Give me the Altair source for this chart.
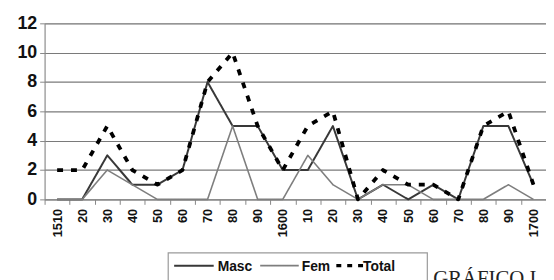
import altair as alt
import pandas as pd

decades = ["1510", "1520", "1530", "1540", "1550", "1560", "1570", "1580", "1590", "1600",
           "1610", "1620", "1630", "1640", "1650", "1660", "1670", "1680", "1690", "1700"]
tick_labels = ["1510", "20", "30", "40", "50", "60", "70", "80", "90", "1600",
               "10", "20", "30", "40", "50", "60", "70", "80", "90", "1700"]
masc = [0, 0, 3, 1, 1, 2, 8, 5, 5, 2, 2, 5, 0, 1, 0, 1, 0, 5, 5, 1]
fem = [0, 0, 2, 1, 0, 0, 0, 5, 0, 0, 3, 1, 0, 1, 1, 0, 0, 0, 1, 0]
total = [2, 2, 5, 2, 1, 2, 8, 10, 5, 2, 5, 6, 0, 2, 1, 1, 0, 5, 6, 1]
series = ["Masc", "Fem", "Total"]
colors = {"Masc": "#383838", "Fem": "#7e7e7e", "Total": "#000000"}
widths = {"Masc": 2.0, "Fem": 1.6, "Total": 3.8}
dashes = {"Masc": [1, 0], "Fem": [1, 0], "Total": [6, 8]}

rows = []
for name, vals in zip(series, [masc, fem, total]):
    for d, v in zip(decades, vals):
        rows.append({"decade": d, "value": v, "serie": name})
df = pd.DataFrame(rows)

label_map = "{" + ",".join(f"'{d}':'{t}'" for d, t in zip(decades, tick_labels)) + "}"

W, H = 507, 178

x_enc = alt.X("decade:N", sort=decades, bandPosition=0.5,
              scale=alt.Scale(type="band", paddingInner=0, paddingOuter=0),
              axis=alt.Axis(title=None, labelAngle=-90, labelAlign="right", labelBaseline="middle",
                            labelExpr=f"{label_map}[datum.value]", labelFont="Liberation Sans",
                            labelFontWeight="bold", labelFontSize=13, labelColor="#111",
                            labelPadding=4, tickBand="extent", tickSize=5, tickColor="#888",
                            domainColor="#888", grid=False))
y_enc = alt.Y("value:Q", scale=alt.Scale(domain=[0, 12], nice=False),
              axis=alt.Axis(title=None, values=[0, 2, 4, 6, 8, 10, 12], labelFont="Liberation Sans",
                            labelFontWeight="bold", labelFontSize=18, labelColor="#111",
                            labelPadding=3, tickSize=5, tickColor="#888", domainColor="#888",
                            gridColor="#7a7a7a", gridWidth=1.2))

layers = []
for name in series:
    layers.append(
        alt.Chart(df).transform_filter(alt.datum.serie == name)
        .mark_line(strokeWidth=widths[name], strokeDash=dashes[name], color=colors[name],
                   strokeCap="butt", strokeJoin="round")
        .encode(x=x_enc, y=y_enc)
    )

# manual legend (Excel-style box below the plot)
one = pd.DataFrame({"k": [0]})
leg_y = 245
legend_parts = [
    alt.Chart(one).mark_rect(fill="white", stroke="#9a9a9a", strokeWidth=1.2).encode(
        x=alt.value(125), x2=alt.value(387), y=alt.value(232), y2=alt.value(275)),
]
leg_items = [("Masc", 131, 171, 175), ("Fem", 218, 257, 260), ("Total", 295, 322, 322)]
for name, x1, x2, tx in leg_items:
    legend_parts.append(
        alt.Chart(one).mark_rule(color=colors[name], strokeWidth=min(widths[name], 2.6) if name != "Total" else 3.2,
                                 strokeDash=[1, 0] if name != "Total" else [5, 6], strokeCap="butt").encode(
            x=alt.value(x1), x2=alt.value(x2), y=alt.value(leg_y)))
    legend_parts.append(
        alt.Chart(pd.DataFrame({"t": [name]})).mark_text(
            font="Liberation Sans", fontWeight="bold", fontSize=14, align="left",
            baseline="middle", color="#111").encode(text="t:N", x=alt.value(tx), y=alt.value(leg_y + 1)))

caption = alt.Chart(pd.DataFrame({"t": ["GRÁFICO I"]})).mark_text(
    font="Liberation Serif", fontSize=21, align="left", baseline="top", color="#222"
).encode(text="t:N", x=alt.value(393), y=alt.value(248))

chart = alt.layer(*layers, *legend_parts, caption).properties(
    width=W, height=H,
    autosize=alt.AutoSizeParams(type="none"),
    padding={"left": 37, "top": 14, "right": 0, "bottom": 80},
).configure_view(fill="#c0c0c0", stroke="#d8d8d8", clip=False).configure(background="white")

chart.save("out.html", embed_options={"renderer": "svg", "actions": False})
